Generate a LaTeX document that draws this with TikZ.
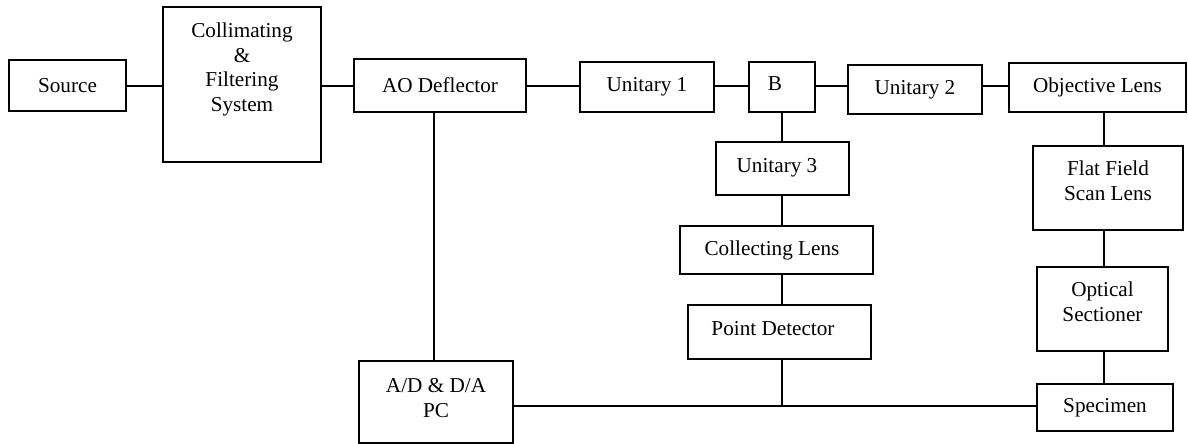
\documentclass[tikz,border=0pt]{standalone}
\usepackage{fontspec}
\setmainfont{Liberation Serif}
\usetikzlibrary{positioning,calc}

\begin{document}
\begin{tikzpicture}[
    x=0.5pt, y=-0.5pt,
    font=\fontsize{10.6}{12.4}\selectfont,
    block/.style={rectangle, draw, line width=1pt, align=center, inner sep=0pt},
    link/.style={line width=0.75pt}
]
    \useasboundingbox (0,0) rectangle (1188,444);

    % Source
    \node[block, minimum width=58.5pt, minimum height=25.5pt] (src) at (67.5,85.5) {Source};

    % Collimating box (text sits high)
    \node[block, minimum width=79pt, minimum height=77.5pt] (colsys) at (242,84.5) {};
    \node[align=center, inner sep=0pt] (colsystext) at (242,69.5) {Collimating\\\&\\Filtering\\System};

    % AO deflector
    \node[block, minimum width=86pt, minimum height=26.5pt] (aod) at (440,85.5) {AO Deflector};

    % Unitaries and B
    \node[block, minimum width=67pt, minimum height=25pt] (uni1) at (647,87) {Unitary 1};
    \node[block, minimum width=33pt, minimum height=25pt] (bsplit) at (782,87) {};
    \node[inner sep=0pt] (bsplittext) at (775,84) {B};
    \node[block, minimum width=67pt, minimum height=24.5pt] (uni2) at (915,89.5) {Unitary 2};

    % Objective side
    \node[block, minimum width=88.5pt, minimum height=24.5pt] (objlens) at (1097.5,87.5) {Objective Lens};
    \node[block, minimum width=75pt, minimum height=42pt] (flatlens) at (1108,188) {};
    \node[align=center, inner sep=0pt] (flatlenstext) at (1108,181) {Flat Field\\Scan Lens};
    \node[block, minimum width=65.5pt, minimum height=42pt] (optsec) at (1102.5,309) {};
    \node[align=center, inner sep=0pt] (optsectext) at (1102.5,302) {Optical\\Sectioner};
    \node[block, minimum width=68pt, minimum height=23.5pt] (specimen) at (1105,407.5) {Specimen};

    % Detection branch
    \node[block, minimum width=66.5pt, minimum height=26.5pt] (uni3) at (782.5,168.5) {};
    \node[inner sep=0pt] (uni3text) at (777,168) {Unitary 3};
    \node[block, minimum width=96.5pt, minimum height=24pt] (collens) at (776.5,250) {};
    \node[inner sep=0pt] (collenstext) at (772,250) {Collecting Lens};
    \node[block, minimum width=91.5pt, minimum height=27pt] (pointdet) at (779.5,332) {};
    \node[inner sep=0pt] (pointdettext) at (773,329) {Point Detector};

    % A/D and PC
    \node[block, minimum width=77pt, minimum height=41pt] (adpc) at (436,402) {};
    \node[align=center, inner sep=0pt] (adpctext) at (436,398) {A/D \& D/A\\PC};

    % Helper coordinates
    \coordinate (beamrow) at (0,86);
    \coordinate (aodcol) at (434,0);
    \coordinate (detcol) at (782,0);
    \coordinate (rightcol) at (1104,0);
    \coordinate (busrow) at (0,406);
    \coordinate (busjoin) at (782,406);

    % Links along the beam
    \draw[link] (src.east |- beamrow) -- (colsys.west |- beamrow);
    \draw[link] (colsys.east |- beamrow) -- (aod.west |- beamrow);
    \draw[link] (aod.east |- beamrow) -- (uni1.west |- beamrow);
    \draw[link] (uni1.east |- beamrow) -- (bsplit.west |- beamrow);
    \draw[link] (bsplit.east |- beamrow) -- (uni2.west |- beamrow);
    \draw[link] (uni2.east |- beamrow) -- (objlens.west |- beamrow);

    % Links down the right side
    \draw[link] (objlens.south -| rightcol) -- (flatlens.north -| rightcol);
    \draw[link] (flatlens.south -| rightcol) -- (optsec.north -| rightcol);
    \draw[link] (optsec.south -| rightcol) -- (specimen.north -| rightcol);

    % Links down the detection branch
    \draw[link] (bsplit.south -| detcol) -- (uni3.north -| detcol);
    \draw[link] (uni3.south -| detcol) -- (collens.north -| detcol);
    \draw[link] (collens.south -| detcol) -- (pointdet.north -| detcol);
    \draw[link] (pointdet.south -| detcol) -- (busjoin);

    % AO deflector to A/D, and the bottom bus
    \draw[link] (aod.south -| aodcol) -- (adpc.north -| aodcol);
    \draw[link] (adpc.east |- busrow) -- (specimen.west |- busrow);

\end{tikzpicture}
\end{document}
